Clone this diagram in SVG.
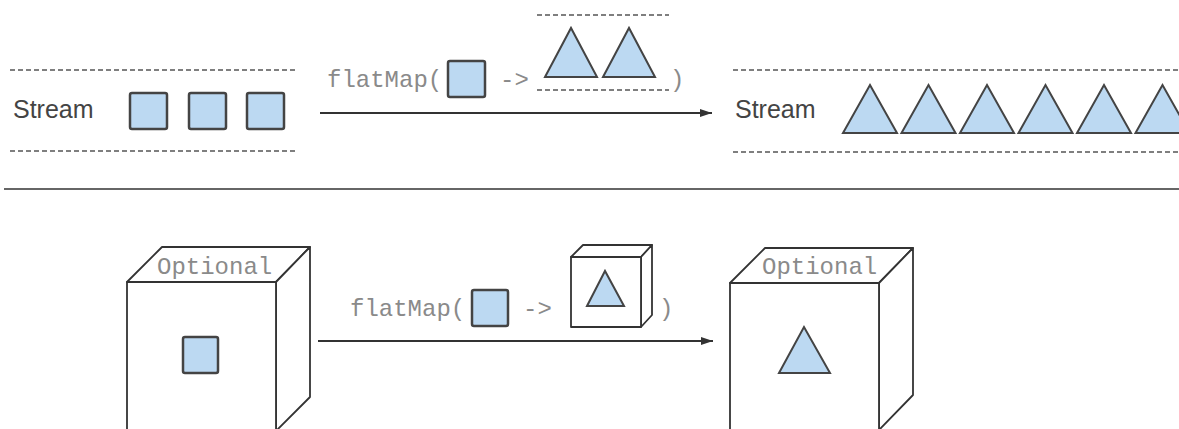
<svg xmlns="http://www.w3.org/2000/svg" width="1179" height="429" viewBox="0 0 1179 429">
<style>
.dash{stroke:#555;stroke-width:1.5;stroke-dasharray:5 3;fill:none}
.sq{fill:#bcd9f2;stroke:#444;stroke-width:2.5}
.tri{fill:#bcd9f2;stroke:#444;stroke-width:2;stroke-linejoin:miter}
.sans{font-family:"Liberation Sans",Arial,sans-serif;font-size:25px;fill:#444}
.mono{font-family:"Liberation Mono","Courier New",monospace;font-size:24px;fill:#8a8a8a}
.cube{fill:#fff;stroke:#333;stroke-width:1.8;stroke-linejoin:round}
.conn{stroke:#333;stroke-width:1.8;fill:none}
</style>
<defs>
<marker id="ah" markerWidth="12" markerHeight="8" refX="12" refY="4" orient="auto" markerUnits="userSpaceOnUse">
<path d="M0,0 L12,4 L0,8 Z" fill="#333"/>
</marker>
</defs>

<g id="stream-in">
<line class="dash" x1="10" y1="70" x2="296" y2="70"/>
<line class="dash" x1="10" y1="151" x2="296" y2="151"/>
<text class="sans" x="13" y="118">Stream</text>
<rect class="sq" x="130" y="93" width="37" height="36" rx="2"/>
<rect class="sq" x="189" y="93" width="37" height="36" rx="2"/>
<rect class="sq" x="247" y="93" width="37" height="36" rx="2"/>
</g>

<g id="flatmap-stream-label">
<text class="mono" x="327" y="87">flatMap(</text>
<rect class="sq" x="448" y="61" width="37" height="36" rx="2"/>
<text class="mono" x="500" y="87">-&gt;</text>
<line class="dash" x1="537" y1="15" x2="669" y2="15"/>
<line class="dash" x1="537" y1="90" x2="669" y2="90"/>
<polygon class="tri" points="545,77 571,28 597,77"/>
<polygon class="tri" points="603,77 629,28 655,77"/>
<text class="mono" x="670" y="87">)</text>
</g>

<g id="stream-out">
<line class="dash" x1="733" y1="70" x2="1179" y2="70"/>
<line class="dash" x1="733" y1="152" x2="1179" y2="152"/>
<text class="sans" x="735" y="118">Stream</text>
<polygon class="tri" points="843,133 870,85 897,133"/>
<polygon class="tri" points="901.5,133 928.5,85 955.5,133"/>
<polygon class="tri" points="960,133 987,85 1014,133"/>
<polygon class="tri" points="1018.5,133 1045.5,85 1072.5,133"/>
<polygon class="tri" points="1077,133 1104,85 1131,133"/>
<polygon class="tri" points="1135.5,133 1162.5,85 1189.5,133"/>
</g>

<g id="optional-in">
<polygon class="cube" points="127,282 162,247 310,247 276,282"/>
<polygon class="cube" points="276,282 310,247 310,397 276,431"/>
<rect class="cube" x="127" y="282" width="149" height="160"/>
<text class="mono" x="157" y="274">Optional</text>
<rect class="sq" x="183" y="337" width="35" height="36" rx="2"/>
</g>

<g id="flatmap-optional-label">
<text class="mono" x="350" y="316">flatMap(</text>
<rect class="sq" x="472" y="290" width="36" height="36" rx="2"/>
<text class="mono" x="523" y="316">-&gt;</text>
<polygon class="cube" points="571,257 583,245 652,245 641,257"/>
<polygon class="cube" points="641,257 652,245 652,315 641,327"/>
<rect class="cube" x="571" y="257" width="70" height="70"/>
<polygon class="tri" points="587,306 605,271 624,306"/>
<text class="mono" x="659" y="316">)</text>
</g>

<g id="optional-out">
<polygon class="cube" points="730,283 765,248 913,248 879,283"/>
<polygon class="cube" points="879,283 913,248 913,395 879,430"/>
<rect class="cube" x="730" y="283" width="149" height="160"/>
<text class="mono" x="762" y="274">Optional</text>
<polygon class="tri" points="779,373 804,327 830,373"/>
</g>

<g id="connectors">
<line class="conn" x1="320" y1="113" x2="712" y2="113" marker-end="url(#ah)"/>
<line class="conn" x1="318" y1="341" x2="713" y2="341" marker-end="url(#ah)"/>
<line x1="4" y1="189" x2="1179" y2="189" stroke="#666" stroke-width="2"/>
</g>
</svg>
